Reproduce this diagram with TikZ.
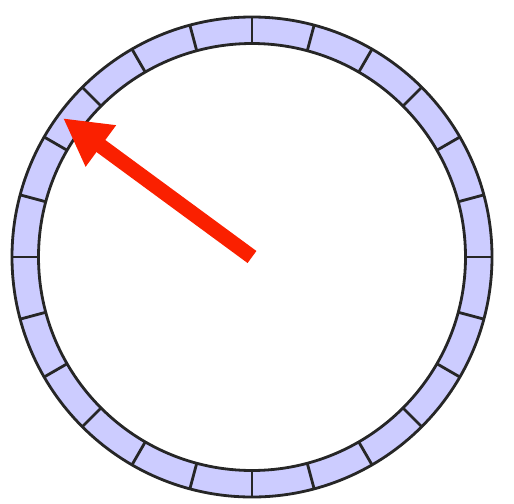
\documentclass[tikz,border=0pt]{standalone}
\usepackage{xcolor}
\usetikzlibrary{arrows.meta,calc}
\definecolor{ringfill}{RGB}{204,204,255}
\definecolor{ptrred}{RGB}{250,32,0}
\tikzset{ring/.style={draw=black!85,line width=1.6pt,fill=ringfill},
  divider/.style={draw=black!85,line width=1.6pt},
  pointer/.style={-{Triangle[length=0.94cm,width=0.96cm]},line width=8.5pt,draw=ptrred,fill=ptrred}}

\begin{document}
\begin{tikzpicture}
\useasboundingbox (0,0) rectangle (10.28,10.06);
\coordinate (c) at (5.04,4.92);
% segmented ring
\path[ring,even odd rule] (c) circle (4.8) (c) circle (4.27);
\foreach \a in {0,15,...,345}{\draw[divider] ($(c)+(\a:4.27)$) -- ($(c)+(\a:4.8)$);}
% pointer
\coordinate (tip) at ($(c)+(143.7:4.69)$);
\draw[pointer] (c) -- (tip);
\end{tikzpicture}
\end{document}
